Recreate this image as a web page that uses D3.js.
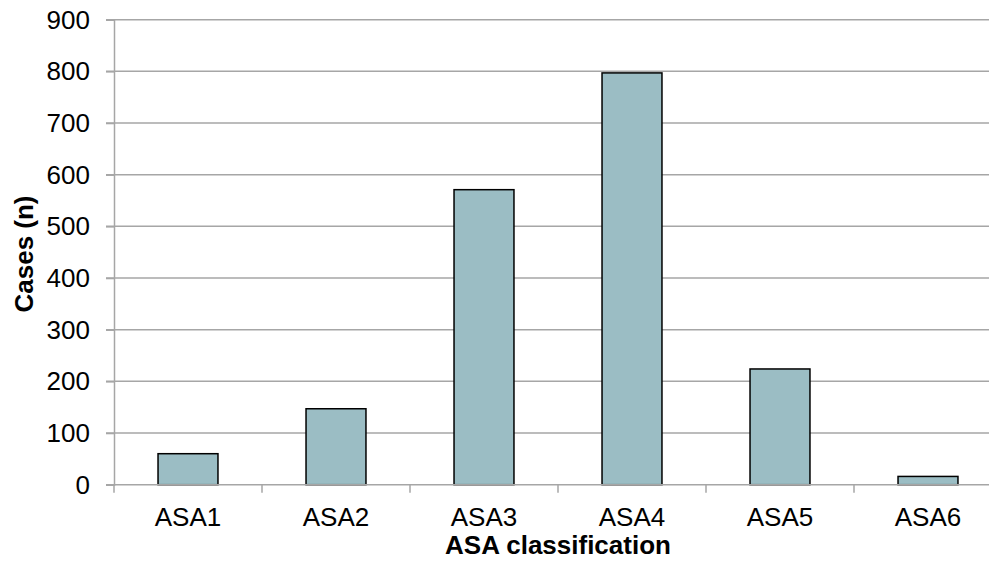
<!DOCTYPE html>
<html><head><meta charset="utf-8">
<script src="https://cdn.jsdelivr.net/npm/d3@7"></script>
<style>body{margin:0;background:#fff}svg{display:block}</style>
</head><body>
<script>
const categories = ["ASA1","ASA2","ASA3","ASA4","ASA5","ASA6"];
const values = [60, 147, 571, 797, 224, 16];
const yTicks = [0,100,200,300,400,500,600,700,800,900];

const W = 989, H = 567;
const svg = d3.select("body").append("svg").attr("width", W).attr("height", H);
const x = d3.scaleBand().domain(categories).range([114, 1002]).paddingInner(0.595).paddingOuter(0.2975);
const y = d3.scaleLinear().domain([0, 900]).range([484.7, 19.7]);
const grid = "#a6a6a6";
const font = "Liberation Sans, Arial, sans-serif";
const fs = 26;

// gridlines
svg.append("g").selectAll("line").data(yTicks.slice(1)).join("line")
  .attr("x1", 106).attr("x2", W).attr("y1", d => y(d)).attr("y2", d => y(d))
  .attr("stroke", grid).attr("stroke-width", 1.5);

// bars
svg.append("g").selectAll("rect").data(values).join("rect")
  .attr("x", (d,i) => x(categories[i]))
  .attr("width", x.bandwidth())
  .attr("y", d => y(d))
  .attr("height", d => y(0) - y(d))
  .attr("fill", "#9bbdc4").attr("stroke", "#000").attr("stroke-width", 1.5);

// y axis
const yAxis = svg.append("g").attr("transform", "translate(114,0)")
  .call(d3.axisLeft(y).tickValues(yTicks).tickSize(8).tickPadding(16));
yAxis.select(".domain").attr("stroke", grid).attr("stroke-width", 1.5);
yAxis.selectAll(".tick line").attr("stroke", grid).attr("stroke-width", 1.5);
yAxis.selectAll("text").attr("font-family", font).attr("font-size", fs).attr("fill", "#000");

// x axis
const xStep = x.step();
const xAxisG = svg.append("g").attr("transform", `translate(0,${y(0)})`);
xAxisG.append("line").attr("x1", 106).attr("x2", W).attr("stroke", grid).attr("stroke-width", 1.5);
xAxisG.selectAll(".tk").data(categories.concat(["_end"])).join("line")
  .attr("x1", (d,i) => 114 + i*xStep).attr("x2", (d,i) => 114 + i*xStep)
  .attr("y1", 0).attr("y2", 8).attr("stroke", grid).attr("stroke-width", 1.5);
xAxisG.selectAll("text").data(categories).join("text")
  .attr("x", d => x(d) + x.bandwidth()/2).attr("y", 41.5)
  .attr("text-anchor", "middle").attr("font-family", font).attr("font-size", fs).attr("fill", "#000")
  .text(d => d);

// titles
svg.append("text").attr("x", 558).attr("y", 553.5).attr("text-anchor", "middle")
  .attr("font-family", font).attr("font-size", fs).attr("font-weight", "bold").text("ASA classification");
svg.append("text").attr("transform", "translate(33,254) rotate(-90)").attr("text-anchor", "middle")
  .attr("font-family", font).attr("font-size", fs).attr("font-weight", "bold").text("Cases (n)");
</script>
</body></html>
